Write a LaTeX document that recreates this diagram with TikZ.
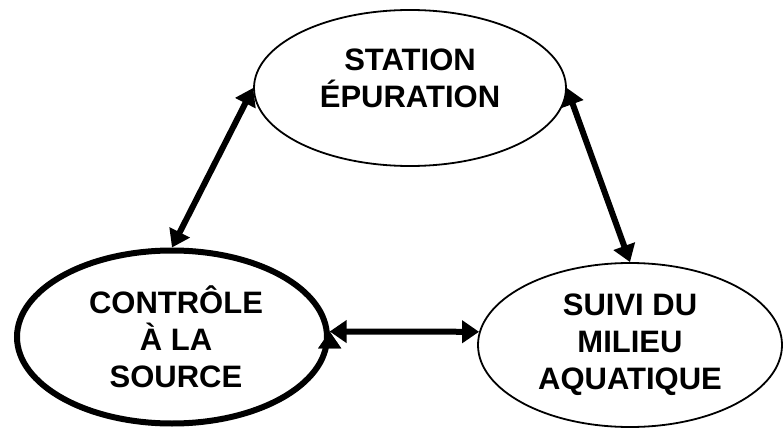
\documentclass[tikz,border=0pt]{standalone}
\usepackage{fontspec}
\setmainfont{Liberation Sans}
\usetikzlibrary{shapes.geometric,arrows.meta}

\begin{document}
\begin{tikzpicture}[
  x=1pt,y=1pt,
  bulle/.style={draw,shape=ellipse,inner sep=0pt,line width=1.8pt},
  titre/.style={align=center,font=\bfseries\fontsize{31}{37}\selectfont,inner sep=0pt},
  ]
  \tikzset{%
    lien/.style={
      {Triangle[length=17pt,width=22pt]}-{Triangle[length=17pt,width=22pt]},
      line width=6pt,
    },
  }
  \useasboundingbox (0,0) rectangle (784,429);
  %Nodes
  \node[bulle,minimum width=312pt,minimum height=156pt](st) at (410,341){};
  \node[bulle,line width=6pt,minimum width=310pt,minimum height=173pt](cs) at (172,92){};
  \node[bulle,minimum width=304pt,minimum height=164pt](sm) at (630,84){};
  %Texts
  \node[titre](st-t) at ([yshift=10pt]st.center){STATION\\ÉPURATION};
  \node[titre](cs-t) at ([xshift=4pt]cs.center){CONTRÔLE\\À LA\\SOURCE};
  \node[titre](sm-t) at (sm.center){SUIVI DU\\MILIEU\\AQUATIQUE};
  %Lines
  \draw[lien]
    (st.west) edge (cs.north)
    (st.east) edge (sm.north)
    (cs.2) edge (sm.175)
    ;
\end{tikzpicture}
\end{document}
